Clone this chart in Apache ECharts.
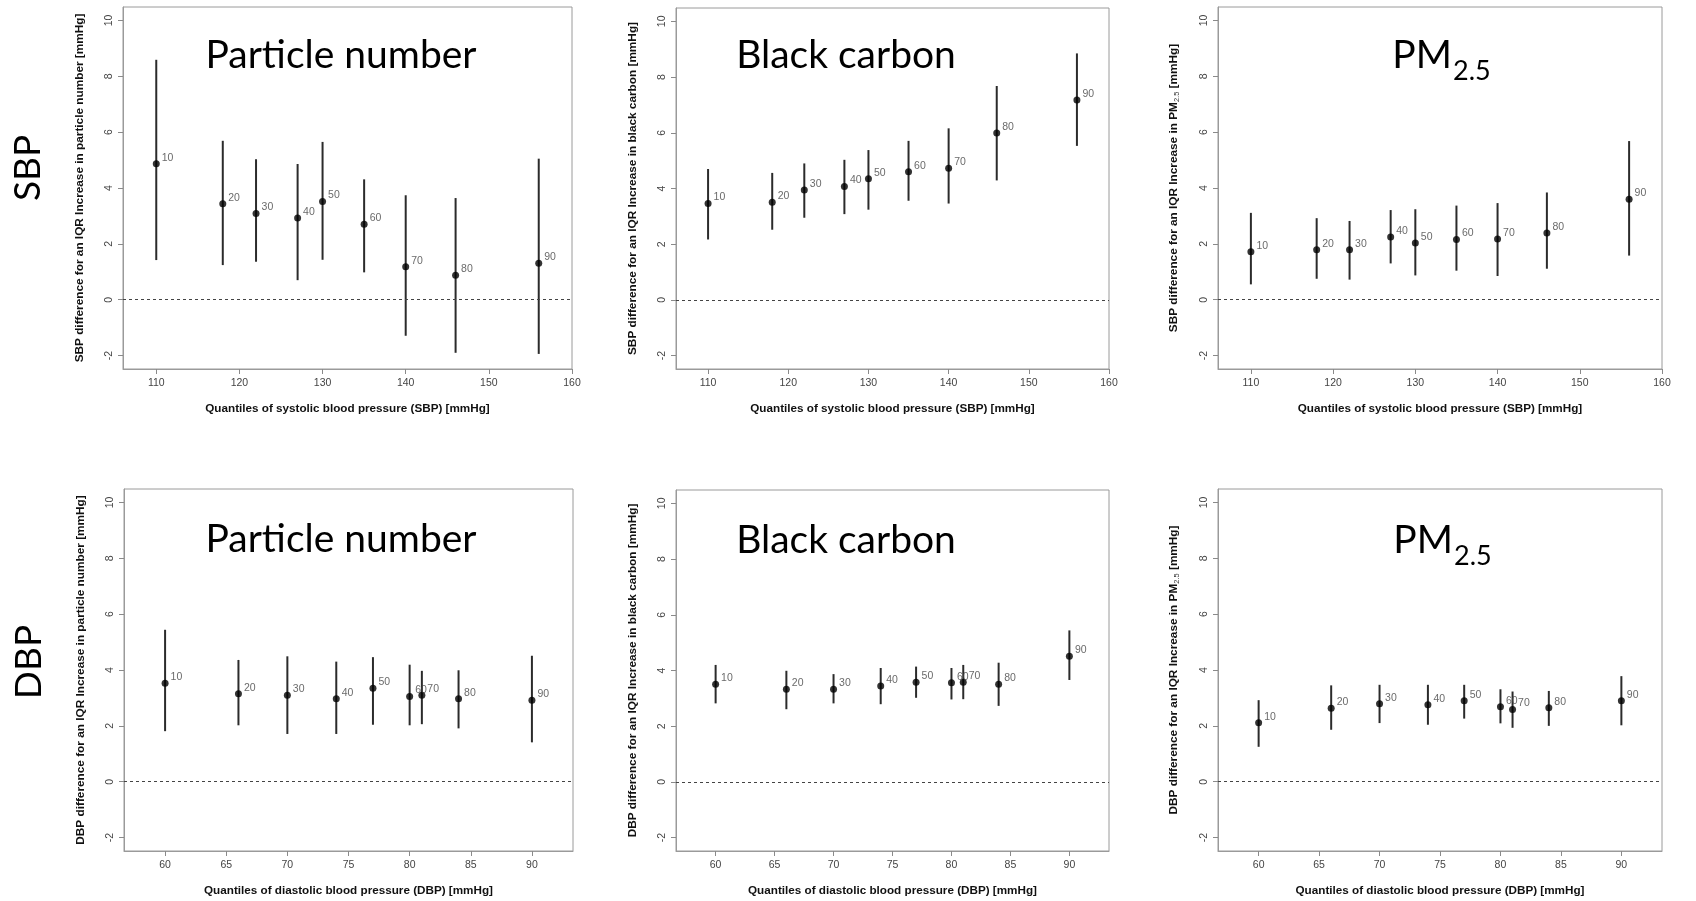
<!DOCTYPE html>
<html>
<head>
<meta charset="utf-8">
<script src="https://cdn.jsdelivr.net/npm/echarts@6/dist/echarts.min.js"></script>
<style>
  html, body { margin: 0; padding: 0; background: #fff; }
  #chart { width: 1696px; height: 901px; }
</style>
</head>
<body>
<div id="chart"></div>
<script>
// x positions (quantiles of blood pressure) and percentile labels
const sbpX = [110, 118, 122, 127, 130, 135, 140, 146, 156];
const dbpX = [60, 66, 70, 74, 77, 80, 81, 84, 90];
const pctLabels = ['10', '20', '30', '40', '50', '60', '70', '80', '90'];

// tick labels
const sbpTicks = [110, 120, 130, 140, 150, 160];
const dbpTicks = [60, 65, 70, 75, 80, 85, 90];
const yTicks = [-2, 0, 2, 4, 6, 8, 10];

// SBP - particle number
const sbpPnEst = [4.87, 3.44, 3.09, 2.93, 3.52, 2.70, 1.18, 0.88, 1.31];
const sbpPnLo  = [1.42, 1.24, 1.36, 0.70, 1.43, 0.98, -1.29, -1.90, -1.94];
const sbpPnHi  = [8.59, 5.69, 5.03, 4.86, 5.65, 4.31, 3.74, 3.64, 5.05];
// SBP - black carbon
const sbpBcEst = [3.46, 3.51, 3.95, 4.07, 4.35, 4.60, 4.73, 5.99, 7.18];
const sbpBcLo  = [2.17, 2.52, 2.95, 3.08, 3.24, 3.56, 3.46, 4.29, 5.53];
const sbpBcHi  = [4.70, 4.56, 4.90, 5.03, 5.38, 5.71, 6.16, 7.68, 8.85];
// SBP - PM2.5
const sbpPmEst = [1.72, 1.79, 1.79, 2.25, 2.03, 2.16, 2.17, 2.39, 3.60];
const sbpPmLo  = [0.55, 0.75, 0.72, 1.30, 0.87, 1.04, 0.85, 1.11, 1.58];
const sbpPmHi  = [3.11, 2.92, 2.82, 3.21, 3.24, 3.37, 3.46, 3.84, 5.68];
// DBP - particle number
const dbpPnEst = [3.53, 3.15, 3.10, 2.97, 3.35, 3.05, 3.10, 2.97, 2.92];
const dbpPnLo  = [1.81, 2.02, 1.71, 1.71, 2.04, 2.02, 2.06, 1.91, 1.41];
const dbpPnHi  = [5.44, 4.36, 4.49, 4.30, 4.46, 4.19, 3.97, 3.99, 4.51];
// DBP - black carbon
const dbpBcEst = [3.51, 3.33, 3.33, 3.44, 3.58, 3.56, 3.58, 3.51, 4.51];
const dbpBcLo  = [2.82, 2.61, 2.82, 2.79, 3.02, 2.96, 2.97, 2.73, 3.66];
const dbpBcHi  = [4.20, 3.99, 3.87, 4.09, 4.14, 4.09, 4.20, 4.28, 5.44];
// DBP - PM2.5
const dbpPmEst = [2.11, 2.63, 2.79, 2.76, 2.90, 2.68, 2.59, 2.65, 2.90];
const dbpPmLo  = [1.25, 1.86, 2.10, 2.04, 2.26, 2.09, 1.93, 2.00, 2.02];
const dbpPmHi  = [2.92, 3.45, 3.47, 3.47, 3.47, 3.31, 3.23, 3.25, 3.78];

const sbpXName = 'Quantiles of systolic blood pressure (SBP) [mmHg]';
const dbpXName = 'Quantiles of diastolic blood pressure (DBP) [mmHg]';

const panels = [
  { grid: { left: 123, top: 7, width: 449, height: 362 }, x: sbpX, est: sbpPnEst, lo: sbpPnLo, hi: sbpPnHi,
    xMin: 106, xMax: 160, xTicks: sbpTicks, xName: sbpXName,
    yName: '{b|SBP difference for an IQR Increase in particle number [mmHg]}' },
  { grid: { left: 676, top: 8, width: 433, height: 361 }, x: sbpX, est: sbpBcEst, lo: sbpBcLo, hi: sbpBcHi,
    xMin: 106, xMax: 160, xTicks: sbpTicks, xName: sbpXName,
    yName: '{b|SBP difference for an IQR Increase in black carbon [mmHg]}' },
  { grid: { left: 1218, top: 7, width: 444, height: 362 }, x: sbpX, est: sbpPmEst, lo: sbpPmLo, hi: sbpPmHi,
    xMin: 106, xMax: 160, xTicks: sbpTicks, xName: sbpXName,
    yName: '{b|SBP difference for an IQR Increase in PM}{s|2.5}{b| [mmHg]}' },
  { grid: { left: 124, top: 489, width: 449, height: 362 }, x: dbpX, est: dbpPnEst, lo: dbpPnLo, hi: dbpPnHi,
    xMin: 56.64, xMax: 93.36, xTicks: dbpTicks, xName: dbpXName,
    yName: '{b|DBP difference for an IQR Increase in particle number [mmHg]}' },
  { grid: { left: 676, top: 490, width: 433, height: 361 }, x: dbpX, est: dbpBcEst, lo: dbpBcLo, hi: dbpBcHi,
    xMin: 56.64, xMax: 93.36, xTicks: dbpTicks, xName: dbpXName,
    yName: '{b|DBP difference for an IQR Increase in black carbon [mmHg]}' },
  { grid: { left: 1218, top: 489, width: 444, height: 362 }, x: dbpX, est: dbpPmEst, lo: dbpPmLo, hi: dbpPmHi,
    xMin: 56.64, xMax: 93.36, xTicks: dbpTicks, xName: dbpXName,
    yName: '{b|DBP difference for an IQR Increase in PM}{s|2.5}{b| [mmHg]}' }
];

const axisFont = 'Liberation Sans, Arial, sans-serif';
const bigFont = 'Lato, "Open Sans", sans-serif';

const grids = [], xAxes = [], yAxes = [], series = [];

panels.forEach(function (p, i) {
  grids.push(Object.assign({ show: true, borderColor: '#9a9a9a', borderWidth: 1, backgroundColor: '#fff' }, p.grid));

  xAxes.push({
    gridIndex: i, type: 'value', min: p.xMin, max: p.xMax,
    axisLine: { show: true, onZero: false, lineStyle: { color: '#9a9a9a' } },
    axisTick: { show: true, inside: false, length: 5, customValues: p.xTicks, lineStyle: { color: '#8a8a8a' } },
    axisLabel: { customValues: p.xTicks, margin: 9, fontSize: 10.5, color: '#444', fontFamily: axisFont },
    splitLine: { show: false },
    name: p.xName, nameLocation: 'middle', nameGap: 34,
    nameTextStyle: { fontSize: 11.7, fontWeight: 'bold', color: '#111', fontFamily: axisFont }
  });

  yAxes.push({
    gridIndex: i, type: 'value', min: -2.48, max: 10.48,
    axisLine: { show: true, onZero: false, lineStyle: { color: '#9a9a9a' } },
    axisTick: { show: true, inside: false, length: 5, customValues: yTicks, lineStyle: { color: '#8a8a8a' } },
    axisLabel: { customValues: yTicks, rotate: 90, margin: 8, fontSize: 10.5, color: '#444', fontFamily: axisFont },
    splitLine: { show: false },
    name: p.yName, nameLocation: 'middle', nameGap: 37, nameRotate: 90,
    nameTextStyle: {
      rich: {
        b: { fontSize: 11.8, fontWeight: 'bold', color: '#111', fontFamily: axisFont },
        s: { fontSize: 7.5, color: '#333', fontFamily: axisFont, verticalAlign: 'bottom', padding: [6, 0, 0, 0] }
      }
    }
  });

  // confidence intervals
  series.push({
    type: 'custom', xAxisIndex: i, yAxisIndex: i,
    data: p.x.map(function (x, k) { return [x, p.lo[k], p.hi[k]]; }),
    renderItem: function (params, api) {
      const a = api.coord([api.value(0), api.value(1)]);
      const b = api.coord([api.value(0), api.value(2)]);
      return { type: 'line', shape: { x1: a[0], y1: a[1], x2: b[0], y2: b[1] },
        style: { stroke: '#2b2b2b', lineWidth: 2 } };
    },
    silent: true, z: 2
  });

  // estimates with percentile labels
  series.push({
    type: 'scatter', xAxisIndex: i, yAxisIndex: i,
    data: p.x.map(function (x, k) { return { value: [x, p.est[k]], name: pctLabels[k] }; }),
    symbol: 'circle', symbolSize: 7,
    itemStyle: { color: '#000' },
    label: { show: true, formatter: '{b}', position: 'right', distance: 2, offset: [0, -6],
      fontSize: 10.5, color: '#444', fontFamily: axisFont },
    markLine: {
      silent: true, symbol: 'none', label: { show: false },
      lineStyle: { color: '#444', type: [3, 3], width: 1 },
      data: [{ yAxis: 0 }]
    },
    z: 3
  });
});

function bigText(text, x, y, size, align, rot) {
  return { type: 'text', x: x, y: y, rotation: rot || 0,
    style: { text: text, fontSize: size, fontFamily: bigFont, fill: '#000', align: align || 'center', verticalAlign: 'middle' } };
}

const graphics = [
  bigText('SBP', 28, 168, 37, 'center', Math.PI / 2),
  bigText('DBP', 29, 662, 37, 'center', Math.PI / 2),
  bigText('Particle number', 341, 55, 39),
  bigText('Black carbon', 846, 55, 39),
  bigText('PM', 1452, 55, 39, 'right'),
  bigText('2.5', 1453, 71, 27, 'left'),
  bigText('Particle number', 341, 539, 39),
  bigText('Black carbon', 846, 540, 39),
  bigText('PM', 1453, 540, 39, 'right'),
  bigText('2.5', 1454, 556, 27, 'left')
];

const chart = echarts.init(document.getElementById('chart'));
chart.setOption({
  animation: false,
  grid: grids,
  xAxis: xAxes,
  yAxis: yAxes,
  series: series,
  graphic: graphics
});
</script>
</body>
</html>
